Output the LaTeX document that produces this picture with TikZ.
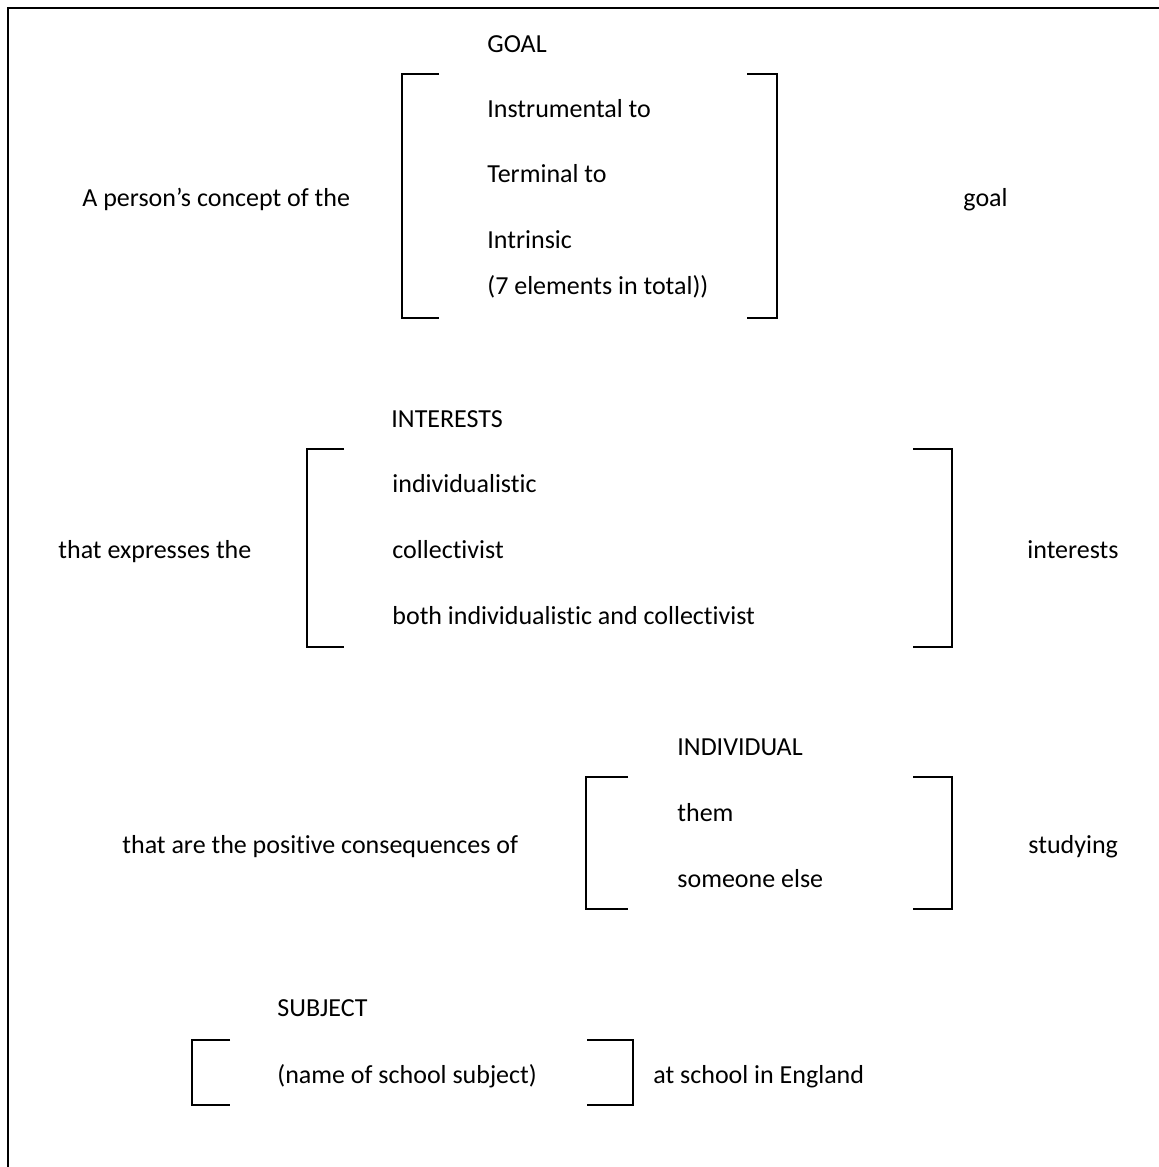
\documentclass[tikz,border=0pt]{standalone}
\usepackage{fontspec}
\setmainfont{Carlito}[Ligatures={NoCommon}]
\begin{document}
\begin{tikzpicture}[x=0.5pt,y=-0.5pt,
  txt/.style={anchor=base west,inner sep=0pt,font=\fontsize{13}{15}\selectfont},
  frameline/.style={line width=1pt,line join=miter},
  brk/.style={line width=0.9pt,line join=miter}]
\useasboundingbox (0,0) rectangle (1158,1167);
% frame
\draw[frameline] (1160,8) -- (8,8) -- (8,1170);

% block 1
\node[txt] (goalhead) at (487,52) {GOAL};
\node[txt] (instr) at (487,117) {Instrumental to};
\node[txt] (term) at (487,182) {Terminal to};
\node[txt] (intr) at (487,248) {Intrinsic};
\node[txt] (seven) at (487,294) {(7 elements in total))};
\node[txt] (person) at (82,206) {A person’s concept of the};
\node[txt] (goal) at (963,206) {goal};
\draw[brk] (439,74) -- (402,74) -- (402,318) -- (439,318);
\draw[brk] (747,74) -- (777,74) -- (777,318) -- (747,318);

% block 2
\node[txt] (inthead) at (391,427) {INTERESTS};
\node[txt] (indiv) at (392,492) {individualistic};
\node[txt] (coll) at (392,558) {collectivist};
\node[txt] (both) at (392,624) {both individualistic and collectivist};
\node[txt] (express) at (58,558) {that expresses the};
\node[txt] (interests) at (1027,558) {interests};
\draw[brk] (344,449) -- (307,449) -- (307,647) -- (344,647);
\draw[brk] (913,449) -- (952,449) -- (952,647) -- (913,647);

% block 3
\node[txt] (indhead) at (677,755) {INDIVIDUAL};
\node[txt] (them) at (677,821) {them};
\node[txt] (someone) at (677,887) {someone else};
\node[txt] (conseq) at (122,853) {that are the positive consequences of};
\node[txt] (studying) at (1028,853) {studying};
\draw[brk] (628,777) -- (586,777) -- (586,909) -- (628,909);
\draw[brk] (913,777) -- (952,777) -- (952,909) -- (913,909);

% block 4
\node[txt] (subjhead) at (277,1016) {SUBJECT};
\node[txt] (subject) at (277,1083) {(name of school subject)};
\node[txt] (england) at (653,1083) {at school in England};
\draw[brk] (230,1040) -- (192,1040) -- (192,1105) -- (230,1105);
\draw[brk] (587,1040) -- (633,1040) -- (633,1105) -- (587,1105);
\end{tikzpicture}
\end{document}
